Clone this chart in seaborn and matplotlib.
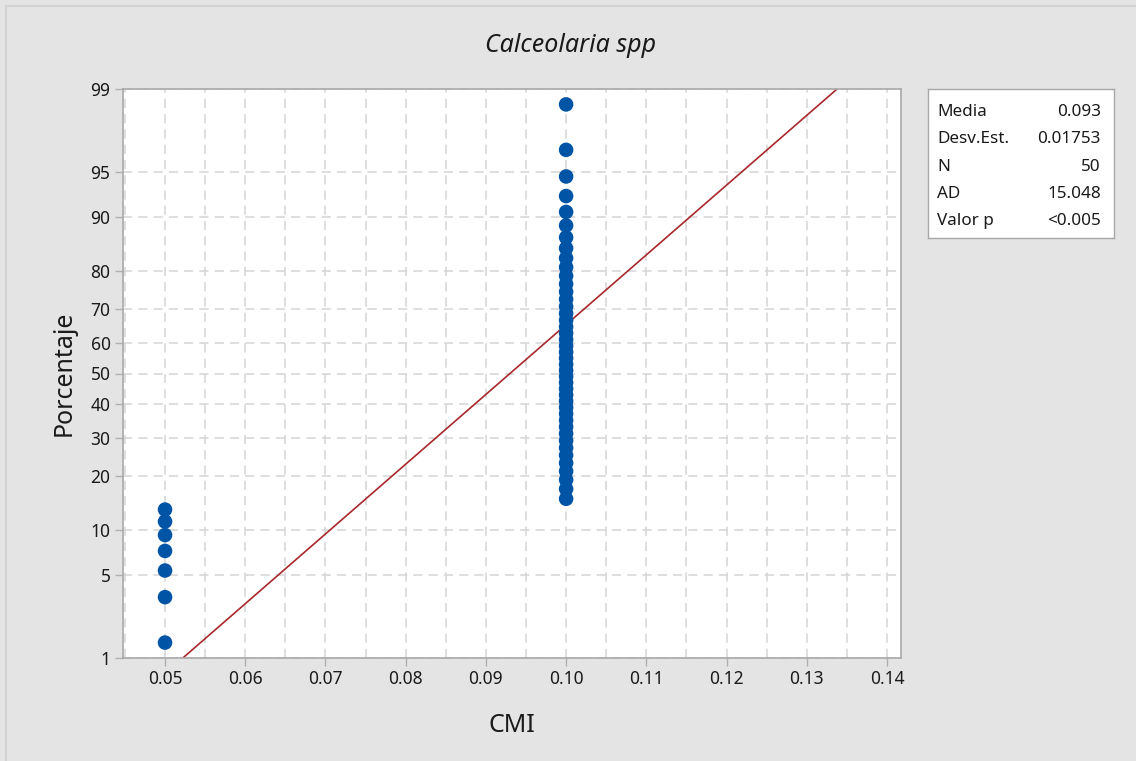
import numpy as np
import pandas as pd
import matplotlib
matplotlib.use("Agg")
import matplotlib.pyplot as plt
import seaborn as sns
from statistics import NormalDist
from math import erf, sqrt

# ---- data ----
cmi_levels = [0.05, 0.10]
cmi_counts = [7, 43]
media = 0.093
desv_est = 0.01753
n_total = 50
ad_stat = "15.048"
p_value = "<0.005"
y_ticks = [1, 5, 10, 20, 30, 40, 50, 60, 70, 80, 90, 95, 99]
x_ticks = [0.05, 0.06, 0.07, 0.08, 0.09, 0.10, 0.11, 0.12, 0.13, 0.14]
fit_percent = [1, 99]

# build observations and median-rank plotting positions (Minitab default)
obs = np.repeat(cmi_levels, cmi_counts)
ranks = np.arange(1, len(obs) + 1)
pct = (ranks - 0.3) / (len(obs) + 0.4) * 100
df = pd.DataFrame({"CMI": obs, "Porcentaje": pct})

nd = NormalDist()
fit_x = [media + desv_est * nd.inv_cdf(p / 100) for p in fit_percent]
fit_df = pd.DataFrame({"CMI": fit_x, "Porcentaje": fit_percent})

_inv_cdf = np.vectorize(nd.inv_cdf, otypes=[float])
_erf = np.vectorize(erf, otypes=[float])

def fwd(p):
    p = np.clip(np.asarray(p, dtype=float) / 100.0, 1e-9, 1 - 1e-9)
    return _inv_cdf(p)

def inv(z):
    z = np.asarray(z, dtype=float)
    return 100 * 0.5 * (1 + _erf(z / sqrt(2)))

sns.set_theme(style="white")
plt.rcParams["font.family"] = ["Noto Sans", "DejaVu Sans"]

TXT = "#1a1a1a"
fig = plt.figure(figsize=(11.36, 7.61), dpi=100)
fig.patch.set_facecolor("#e4e4e4")
# thin border on top/left
fig.add_artist(plt.Line2D([6/1136, 6/1136], [0, 1 - 6/761], transform=fig.transFigure, color="#d2d2d2", lw=1.5))
fig.add_artist(plt.Line2D([6/1136, 1], [1 - 6/761, 1 - 6/761], transform=fig.transFigure, color="#d2d2d2", lw=1.5))

ax = fig.add_axes([123/1136, 1 - 658/761, (901 - 123)/1136, (658 - 89)/761])
ax.set_facecolor("white")
ax.set_yscale("function", functions=(fwd, inv))

# grid
for xv in np.arange(0.045, 0.1401, 0.005):
    ax.axvline(xv, color="#d4d4d4", lw=1.1, ls=(0, (6, 4)), zorder=0)
for yv in y_ticks:
    ax.axhline(yv, color="#d4d4d4", lw=1.1, ls=(0, (6, 4)), zorder=0)

sns.lineplot(data=fit_df, x="CMI", y="Porcentaje", ax=ax, color="#a8282c", lw=1.2, zorder=2)
sns.scatterplot(data=df, x="CMI", y="Porcentaje", ax=ax, color="#0054a6", s=110,
                edgecolor="none", zorder=3)

ax.set_xlim(0.04476, 0.14175)
ax.set_ylim(1, 99)
ax.set_xticks(x_ticks)
ax.set_xticklabels([f"{v:.2f}" for v in x_ticks])
ax.set_yticks(y_ticks)
ax.set_yticklabels([str(v) for v in y_ticks])
ax.minorticks_off()
ax.tick_params(axis="both", which="major", direction="out", length=6, width=1,
               color="#b0b0b0", labelsize=12.5, labelcolor=TXT, pad=3, left=True, bottom=True)
for s in ax.spines.values():
    s.set_color("#a8a8a8")
    s.set_linewidth(1.2)

ax.set_xlabel("CMI", fontsize=18, color=TXT, labelpad=18)
ax.set_ylabel("Porcentaje", fontsize=18, color=TXT, labelpad=10)
fig.text(571/1136, 1 - 45/761, "Calceolaria spp", ha="center", va="center",
         fontsize=18, style="italic", color=TXT)

# stats box
bx = fig.add_axes([928/1136, 1 - 238/761, (1114 - 928)/1136, (238 - 89)/761])
bx.set_facecolor("white")
bx.set_xticks([]); bx.set_yticks([])
for s in bx.spines.values():
    s.set_color("#a8a8a8"); s.set_linewidth(1)
rows = [("Media", f"{media:.3f}"), ("Desv.Est.", f"{desv_est:.5f}"), ("N", str(n_total)),
        ("AD", ad_stat), ("Valor p", p_value)]
for i, (lab, val) in enumerate(rows):
    ypx = 112 + i * 27.3
    fig.text(937/1136, 1 - ypx/761, lab, ha="left", va="center", fontsize=12.3, color=TXT)
    fig.text(1101/1136, 1 - ypx/761, val, ha="right", va="center", fontsize=12.3, color=TXT)

fig.savefig("out.png", dpi=100, facecolor=fig.get_facecolor())
